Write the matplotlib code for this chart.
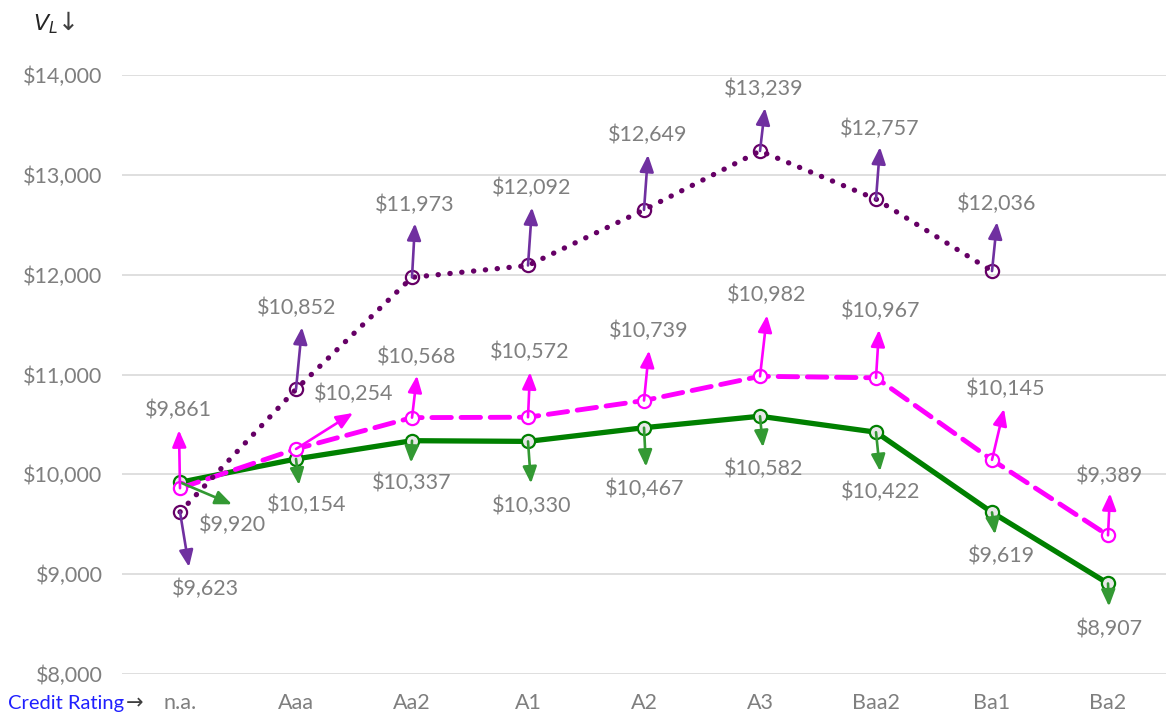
import numpy as np
import matplotlib
matplotlib.use("Agg")
import matplotlib.pyplot as plt

# Data
ratings = ['n.a.', 'Aaa', 'Aa2', 'A1', 'A2', 'A3', 'Baa2', 'Ba1', 'Ba2']
green_vals = [9920, 10154, 10337, 10330, 10467, 10582, 10422, 9619, 8907]
pink_vals = [9861, 10254, 10568, 10572, 10739, 10982, 10967, 10145, 9389]
purple_vals = [9623, 10852, 11973, 12092, 12649, 13239, 12757, 12036]

# arrow tip / label offsets in pixels (dx right, dy down)
green_arrow = [(52, 22), (3, 26), (-1, 22), (3, 42), (2, 39), (3, 31), (4, 39), (3, 22), (1, 23)]
green_label = [(52, 43), (11, 46), (0, 42), (4, 65), (1, 61), (4, 53), (5, 60), (9, 44), (1, 45)]
pink_arrow = [(-1, -58), (57, -36), (5, -42), (2, -45), (5, -50), (7, -61), (3, -48), (12, -51), (2, -42)]
pink_label = [(-2, -78), (58, -55), (5, -61), (2, -65), (5, -70), (7, -81), (5, -67), (14, -71), (2, -59)]
purple_arrow = [(9, 55), (6, -62), (3, -54), (4, -58), (4, -55), (5, -43), (4, -52), (5, -49)]
purple_label = [(25, 77), (1, -81), (3, -72), (4, -78), (4, -75), (4, -62), (4, -70), (5, -67)]

plt.rcParams['font.family'] = ['Lato', 'DejaVu Sans']
grey = '#7f7f7f'
fs = 15.5

fig = plt.figure(figsize=(11.66, 7.14), dpi=100)
ax = fig.add_axes([122 / 1166, 1 - 674 / 714, 1 - 122 / 1166, (674 - 75) / 714])
ax.set_xlim(-0.5, 8.5)
ax.set_ylim(8000, 14000)

x = np.arange(len(ratings))
ax.plot(x, green_vals, color='#008000', lw=3.8, zorder=3, marker='o', ms=9.5,
        mfc='#e8e8e8', mec='#008000', mew=1.6, solid_capstyle='round')
ax.plot(x, pink_vals, color='#ff00ff', lw=3.5, ls=(0, (4, 2)), zorder=4, marker='o', ms=9.5,
        mfc='white', mec='#ff00ff', mew=1.6, dash_capstyle='round')
ax.plot(x[:len(purple_vals)], purple_vals, color='#660066', lw=3.8, ls=(0, (0.05, 2.2)), zorder=5,
        marker='o', ms=9.5, mfc='none', mec='#660066', mew=1.6, dash_capstyle='round')


def add_arrows(vals, arrows, labels, color):
    for i, v in enumerate(vals):
        p = ax.transData.transform((i, v))
        tip = ax.transData.inverted().transform(p + np.array([arrows[i][0], -arrows[i][1]]))
        ax.annotate('', xy=tip, xytext=(i, v), xycoords='data',
                    arrowprops=dict(arrowstyle='-|>,head_length=1.0,head_width=0.42',
                                    color=color, lw=1.9, shrinkA=0, shrinkB=0),
                    zorder=6, annotation_clip=False)
        ax.annotate(f'${v:,}', xy=(i, v), xytext=(labels[i][0], -labels[i][1]),
                    textcoords='offset pixels', ha='center', va='center',
                    fontsize=fs, color=grey, annotation_clip=False)


add_arrows(green_vals, green_arrow, green_label, '#339933')
add_arrows(pink_vals, pink_arrow, pink_label, '#ff00ff')
add_arrows(purple_vals, purple_arrow, purple_label, '#7030a0')

ax.set_yticks(np.arange(8000, 14001, 1000))
ax.set_yticklabels([f'${t:,}' for t in range(8000, 14001, 1000)])
ax.set_xticks(x)
ax.set_xticklabels(ratings)
ax.tick_params(axis='both', length=0, labelsize=fs, labelcolor=grey)
ax.tick_params(axis='y', pad=14)
ax.tick_params(axis='x', pad=14)
ax.grid(axis='y', color='#d9d9d9', lw=1.2)
ax.set_axisbelow(True)
for s in ax.spines.values():
    s.set_visible(False)

fig.text(8 / 1166, 1 - 704 / 714, 'Credit Rating', color='#2020ff', fontsize=14.5, va='center', ha='left')
fig.text(126 / 1166, 1 - 703 / 714, '→', color='#404040', fontsize=15, va='center', ha='left',
         family=['DejaVu Sans'])
fig.text(33 / 1166, 1 - 24 / 714, r'$V_L$', color='#262626', fontsize=16, va='center', ha='left',
         math_fontfamily='dejavusans')
fig.text(58 / 1166, 1 - 23 / 714, '↓', color='#404040', fontsize=18, va='center', ha='left',
         family=['DejaVu Sans'])

fig.savefig('out.png', dpi=100)
